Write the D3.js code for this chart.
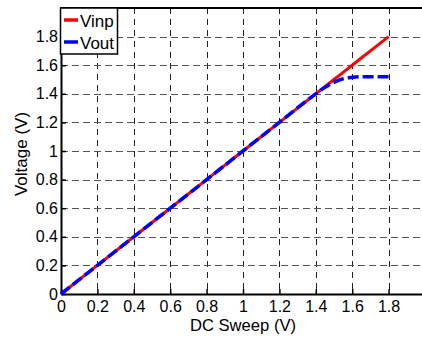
<!DOCTYPE html>
<html>
<head>
<meta charset="utf-8">
<script src="https://cdn.jsdelivr.net/npm/d3@7"></script>
<style>
  body { margin: 0; background: #fff; }
  text { font-family: "Liberation Sans", Arial, sans-serif; }
</style>
</head>
<body>
<div id="main"></div>
<script>
// DC sweep values (V)
var sweep = [0, 0.2, 0.4, 0.6, 0.8, 1.0, 1.2, 1.4, 1.45, 1.5, 1.55, 1.6, 1.65, 1.7, 1.8]
var vinp  = [0, 0.2, 0.4, 0.6, 0.8, 1.0, 1.2, 1.4, 1.45, 1.5, 1.55, 1.6, 1.65, 1.7, 1.8]
var vout  = [0, 0.2, 0.4, 0.6, 0.8, 1.0, 1.2, 1.4, 1.445, 1.48, 1.505, 1.515, 1.52, 1.52, 1.52]
var xTicks = [0, 0.2, 0.4, 0.6, 0.8, 1, 1.2, 1.4, 1.6, 1.8]
var yTicks = [0, 0.2, 0.4, 0.6, 0.8, 1, 1.2, 1.4, 1.6, 1.8]
var seriesNames = ["Vinp", "Vout"]
var seriesColors = ["#ff0000", "#0000ff"]

var dimensions = {
  width: 422,
  height: 337,
  margin: { top: 8, bottom: 43, left: 61, right: -3 }
}
dimensions.boundedWidth = dimensions.width - dimensions.margin.left - dimensions.margin.right
dimensions.boundedHeight = dimensions.height - dimensions.margin.top - dimensions.margin.bottom

var svg = d3.select("#main")
  .append("svg")
  .attr("width", dimensions.width)
  .attr("height", dimensions.height)

var SVG = svg.append("g")
  .attr("transform", "translate(" + dimensions.margin.left + "," + dimensions.margin.top + ")")

var x = d3.scaleLinear().domain([0, 2]).range([0, dimensions.boundedWidth])
var y = d3.scaleLinear().domain([0, 2]).range([dimensions.boundedHeight, 0])

// grid
SVG.append("g")
  .selectAll("line")
  .data(xTicks.slice(1))
  .enter()
  .append("line")
  .attr("x1", function(d) { return Math.round(x(d)) + 0.5 })
  .attr("x2", function(d) { return Math.round(x(d)) + 0.5 })
  .attr("y1", 0)
  .attr("y2", dimensions.boundedHeight)
  .attr("stroke", "#222")
  .attr("stroke-width", 1)
  .attr("stroke-dasharray", "6,5")

SVG.append("g")
  .selectAll("line")
  .data(yTicks.slice(1))
  .enter()
  .append("line")
  .attr("x1", 0)
  .attr("x2", dimensions.boundedWidth)
  .attr("y1", function(d) { return Math.round(y(d)) + 0.5 })
  .attr("y2", function(d) { return Math.round(y(d)) + 0.5 })
  .attr("stroke", "#555")
  .attr("stroke-width", 1)
  .attr("stroke-dasharray", "7,4")

// axes
var xAxis = d3.axisBottom(x).tickValues(xTicks).tickSizeInner(-5).tickSizeOuter(0).tickPadding(7)
  .tickFormat(function(d) { return d3.format("")(d) })
var yAxis = d3.axisLeft(y).tickValues(yTicks).tickSizeInner(-5).tickSizeOuter(0).tickPadding(3)
  .tickFormat(function(d) { return d3.format("")(d) })

var gx = SVG.append("g")
  .attr("transform", "translate(0," + dimensions.boundedHeight + ")")
  .call(xAxis)
var gy = SVG.append("g").call(yAxis)

gx.selectAll("text").style("font-size", "16px").attr("fill", "#000")
gy.selectAll("text").style("font-size", "16px").attr("fill", "#000")
gx.select(".domain").attr("stroke-width", 2)
gy.select(".domain").attr("stroke-width", 2)
gx.selectAll(".tick line").attr("stroke-width", 1.5)
gy.selectAll(".tick line").attr("stroke-width", 1.5)

// top border
SVG.append("line")
  .attr("x1", -1).attr("x2", dimensions.boundedWidth)
  .attr("y1", 0).attr("y2", 0)
  .attr("stroke", "#000").attr("stroke-width", 2)

// lines
var line = d3.line()
  .x(function(d) { return x(d[0]) })
  .y(function(d) { return y(d[1]) })

SVG.append("path")
  .datum(d3.zip(sweep, vinp))
  .attr("d", line)
  .attr("fill", "none")
  .attr("stroke", seriesColors[0])
  .attr("stroke-width", 3)

SVG.append("path")
  .datum(d3.zip(sweep, vout))
  .attr("d", d3.line().curve(d3.curveMonotoneX).x(function(d) { return x(d[0]) }).y(function(d) { return y(d[1]) }))
  .attr("fill", "none")
  .attr("stroke", seriesColors[1])
  .attr("stroke-width", 3.5)
  .attr("stroke-dasharray", "11,4")

// axis labels
svg.append("text")
  .attr("x", 243)
  .attr("y", 330.5)
  .attr("text-anchor", "middle")
  .style("font-size", "16.6px")
  .text("DC Sweep (V)")

svg.append("text")
  .attr("transform", "translate(27,154) rotate(-90)")
  .attr("text-anchor", "middle")
  .style("font-size", "17px")
  .text("Voltage (V)")

// legend
var legend = SVG.append("g")
legend.append("rect")
  .attr("x", -0.5).attr("y", 0)
  .attr("width", 57).attr("height", 46)
  .attr("fill", "#fff")
  .attr("stroke", "#000")
  .attr("stroke-width", 1.5)

var items = legend.selectAll("g.item")
  .data(seriesNames)
  .enter()
  .append("g")
  .attr("transform", function(d, i) { return "translate(0," + (12 + i * 22) + ")" })

items.append("line")
  .attr("x1", 3).attr("x2", 17)
  .attr("y1", 0).attr("y2", 0)
  .attr("stroke", function(d, i) { return seriesColors[i] })
  .attr("stroke-width", 3.5)

items.append("text")
  .attr("x", 19)
  .attr("y", 6.5)
  .style("font-size", "17px")
  .text(function(d) { return d })
</script>
</body>
</html>
